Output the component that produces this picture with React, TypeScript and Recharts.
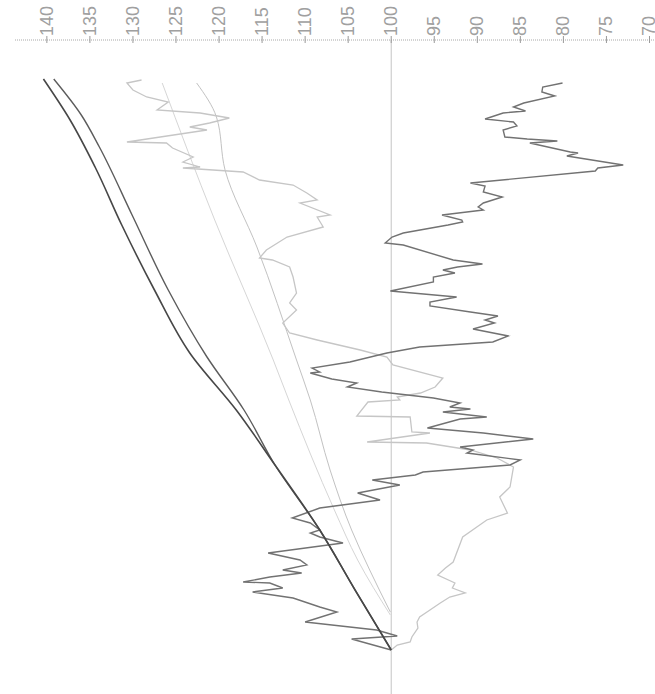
import React from "react";
import { Line, LineChart, ReferenceLine, XAxis, YAxis } from "recharts";

// time runs bottom -> top (day index), value axis across the top (140 left, 70 right)
const VALUE_TICKS = [140, 135, 130, 125, 120, 115, 110, 105, 100, 95, 90, 85, 80, 75, 70];

// [day, value]
const seriesA: [number, number][] = [
  [0, 100], [60, 104.2], [120, 108.3], [185, 113.5], [240, 118.0], [297, 123.4],
  [360, 127.5], [425, 131.3], [483, 134.4], [530, 137.3], [571, 140.4],
];

const seriesB: [number, number][] = [
  [0, 100], [60, 104.2], [120, 108.3], [185, 113.5], [240, 117.1], [293, 121.4],
  [360, 125.9], [435, 130.1], [503, 133.9], [535, 136.0], [571, 139.2],
];

const lightStraight: [number, number][] = [
  [35, 100.1], [90, 103.9], [140, 106.6], [250, 111.9], [290, 113.7], [430, 120.5], [567, 126.6],
];

const lightCurve: [number, number][] = [
  [38, 100.1], [80, 102.5], [120, 104.6], [180, 107.1], [250, 109.4], [290, 111.0],
  [403, 115.6], [480, 119.3], [533, 120.3], [567, 122.6],
];

const noisyDark: [number, number][] = [
  [0, 100], [11, 104.6], [14, 99.3], [20, 101.7], [28, 110.0], [38, 106.3], [43, 108.3],
  [52, 111.4], [58, 116.1], [62, 112.6], [67, 114.1], [68, 117.2], [73, 114.1], [77, 110.4],
  [80, 112.6], [85, 109.8], [90, 110.6], [97, 114.3], [107, 105.6], [113, 108.3], [117, 109.4],
  [120, 108.3], [127, 109.4], [132, 111.5], [142, 108.3], [150, 101.3], [157, 103.9],
  [165, 99.0], [170, 102.2], [175, 97.2], [178, 96.3], [185, 86.2], [190, 85.0], [197, 91.2],
  [200, 90.5], [203, 92.0], [211, 83.5], [217, 89.3], [222, 95.8], [231, 92.0], [233, 88.9],
  [238, 94.0], [241, 90.8], [243, 93.2], [247, 92.0], [252, 95.1], [258, 101.1], [263, 105.1],
  [267, 104.0], [271, 106.9], [277, 109.4], [278, 108.3], [282, 109.2], [288, 104.8],
  [297, 100.5], [303, 96.7], [308, 88.2], [314, 86.4], [321, 90.5], [327, 88.0], [330, 89.1],
  [334, 87.6], [338, 90.8], [344, 95.5], [348, 95.5], [353, 92.4], [359, 100.1], [368, 95.1],
  [373, 95.1], [377, 92.6], [380, 94.0], [383, 92.3], [386, 89.4], [390, 92.8], [405, 98.6],
  [407, 100.7], [413, 99.9], [417, 98.6], [425, 93.4], [428, 91.7], [430, 91.8], [435, 94.1],
  [440, 89.3], [443, 89.9], [447, 89.3], [453, 87.1], [458, 89.3], [464, 89.1], [467, 90.8],
  [479, 76.3], [482, 76.0], [485, 73.05], [494, 79.6], [497, 78.3], [498, 79.2], [507, 83.9],
  [509, 80.7], [511, 84.2], [513, 86.8], [520, 87.0], [524, 85.4], [528, 85.8], [531, 89.1],
  [537, 87.0], [539, 84.4], [543, 85.8], [547, 84.6], [554, 81.0], [558, 82.5], [563, 82.4],
  [567, 80.1],
];

const noisyLight: [number, number][] = [
  [0, 100], [5, 99.3], [8, 97.8], [13, 97.6], [22, 96.9], [28, 97.0], [33, 96.7], [40, 95.5],
  [47, 94.3], [53, 93.2], [57, 91.4], [62, 92.9], [67, 92.6], [75, 94.6], [82, 93.7],
  [88, 92.8], [113, 91.7], [130, 88.9], [137, 86.5], [153, 87.4], [163, 86.2], [183, 85.8],
  [192, 87.7], [200, 90.8], [207, 95.9], [208, 102.8], [217, 95.5], [218, 97.6], [233, 97.8],
  [234, 104.0], [248, 102.7], [250, 99.0], [253, 99.3], [257, 96.6], [263, 94.9], [272, 94.0],
  [285, 99.8], [293, 100.5], [300, 103.6], [310, 108.6], [317, 111.8], [327, 112.6],
  [340, 111.0], [347, 111.8], [357, 111.0], [373, 111.4], [383, 111.8], [390, 113.8],
  [392, 115.3], [400, 114.5], [413, 112.1], [423, 107.9], [433, 108.6], [435, 107.1],
  [447, 110.6], [450, 108.6], [457, 109.8], [465, 111.4], [470, 115.3], [478, 117.2],
  [482, 124.2], [483, 122.2], [488, 124.2], [493, 123.0], [502, 125.4], [507, 126.1],
  [508, 130.7], [520, 121.4], [523, 123.4], [527, 121.1], [532, 118.8], [537, 122.2],
  [540, 127.2], [548, 125.9], [553, 128.4], [560, 130.0], [567, 130.7], [570, 129.0],
];

const toPoints = (arr: [number, number][]) => arr.map(([t, v]) => ({ t, v }));

const ValueTick = (props: any) => {
  const { x, payload } = props;
  const y = 36;
  return (
    <g>
      <line x1={x} x2={x} y1={36} y2={43} stroke="#9a9a9a" strokeWidth={1} />
      <text
        x={x}
        y={y}
        transform={`rotate(-90 ${x} ${y})`}
        textAnchor="start"
        dominantBaseline="central"
        fontSize={18}
        fontFamily="Liberation Sans, Arial, sans-serif"
        fill="#a0a0a0"
      >
        {payload.value}
      </text>
    </g>
  );
};

export default function App() {
  return (
    <div style={{ position: "absolute", left: 0, top: 0, background: "#fff" }}>
      <LineChart
        width={655}
        height={694}
        layout="vertical"
        margin={{ top: 0, right: 0, bottom: 0, left: 15 }}
      >
        <XAxis
          type="number"
          dataKey="v"
          orientation="top"
          domain={[69.36, 143.7]}
          reversed
          ticks={VALUE_TICKS}
          interval={0}
          height={40}
          tick={<ValueTick />}
          tickLine={false}
          axisLine={{ stroke: "#a8a8a8", strokeDasharray: "1 1" }}
          allowDataOverflow
        />
        <YAxis
          type="number"
          dataKey="t"
          domain={[-44, 610]}
          reversed
          hide
          width={0}
          allowDataOverflow
        />
        <ReferenceLine x={100} stroke="#c4c4c4" strokeWidth={1} />
        <Line
          data={toPoints(lightStraight)}
          dataKey="v"
          type="monotone"
          stroke="#d6d6d6"
          strokeWidth={1}
          dot={false}
          isAnimationActive={false}
        />
        <Line
          data={toPoints(lightCurve)}
          dataKey="v"
          type="monotone"
          stroke="#c2c2c2"
          strokeWidth={1}
          dot={false}
          isAnimationActive={false}
        />
        <Line
          data={toPoints(noisyLight)}
          dataKey="v"
          stroke="#c6c6c6"
          strokeWidth={1.3}
          dot={false}
          isAnimationActive={false}
        />
        <Line
          data={toPoints(noisyDark)}
          dataKey="v"
          stroke="#727272"
          strokeWidth={1.4}
          dot={false}
          isAnimationActive={false}
        />
        <Line
          data={toPoints(seriesB)}
          dataKey="v"
          type="monotone"
          stroke="#5c5c5c"
          strokeWidth={1.4}
          dot={false}
          isAnimationActive={false}
        />
        <Line
          data={toPoints(seriesA)}
          dataKey="v"
          type="monotone"
          stroke="#474747"
          strokeWidth={1.6}
          dot={false}
          isAnimationActive={false}
        />
      </LineChart>
    </div>
  );
}
